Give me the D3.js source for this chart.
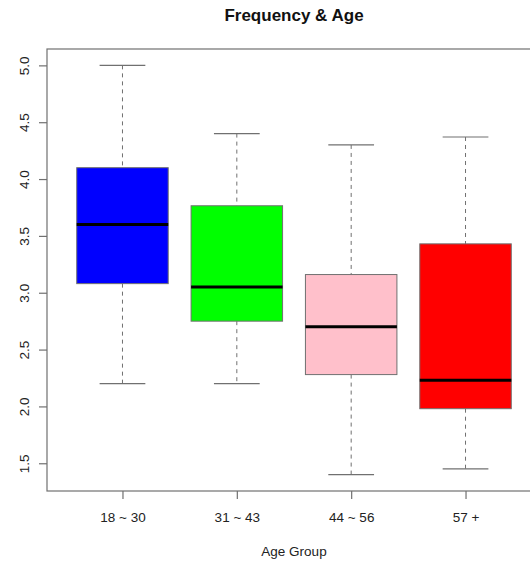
<!DOCTYPE html>
<html>
<head>
<meta charset="utf-8">
<script src="https://cdn.jsdelivr.net/npm/d3@7"></script>
<style>
body { margin: 0; background: #fff; }
svg { display: block; font-family: "Liberation Sans", Arial, sans-serif; }
</style>
</head>
<body>
<svg id="chart" width="530" height="563"></svg>
<script>
const categories = ["18 ~ 30", "31 ~ 43", "44 ~ 56", "57 +"];
const whiskerLow = [2.2, 2.2, 1.4, 1.45];
const q1 = [3.08, 2.75, 2.28, 1.98];
const median = [3.6, 3.05, 2.7, 2.23];
const q3 = [4.1, 3.765, 3.16, 3.43];
const whiskerHigh = [5.0, 4.4, 4.3, 4.37];
const boxColors = ["#0000ff", "#00ff00", "#ffc0cb", "#ff0000"];
const yTicks = [1.5, 2.0, 2.5, 3.0, 3.5, 4.0, 4.5, 5.0];
const title = "Frequency & Age";
const xTitle = "Age Group";

(function () {
const svg = d3.select("#chart");
const mLeft = 47, mRight = 541, mTop = 49, mBottom = 491;

const yMin = d3.min(whiskerLow), yMax = d3.max(whiskerHigh);
const pad = (yMax - yMin) * 0.04;
const y = d3.scaleLinear().domain([yMin - pad, yMax + pad]).range([mBottom, mTop]);
const n = categories.length;
const xpad = n * 0.04;
const x = d3.scaleLinear().domain([0.5 - xpad, n + 0.5 + xpad]).range([mLeft, mRight]);
const unit = x(1) - x(0);

const lineCol = "#707070";
const textCol = "#222";
const fs = 13.5;

const data = categories.map((c, i) => ({
  c, i: i + 1, lo: whiskerLow[i], q1: q1[i], med: median[i], q3: q3[i], hi: whiskerHigh[i], col: boxColors[i]
}));

const g = svg.append("g");
data.forEach(d => {
  const cx = x(d.i);
  g.append("line").attr("x1", cx).attr("x2", cx).attr("y1", y(d.hi)).attr("y2", y(d.q3))
    .attr("stroke", lineCol).attr("stroke-width", 1).attr("stroke-dasharray", "4,4");
  g.append("line").attr("x1", cx).attr("x2", cx).attr("y1", y(d.q1)).attr("y2", y(d.lo))
    .attr("stroke", lineCol).attr("stroke-width", 1).attr("stroke-dasharray", "4,4");
  [d.hi, d.lo].forEach(v => {
    g.append("line").attr("x1", cx - unit * 0.2).attr("x2", cx + unit * 0.2)
      .attr("y1", y(v)).attr("y2", y(v)).attr("stroke", lineCol).attr("stroke-width", 1.2);
  });
  g.append("rect").attr("x", cx - unit * 0.4).attr("width", unit * 0.8)
    .attr("y", y(d.q3)).attr("height", y(d.q1) - y(d.q3))
    .attr("fill", d.col).attr("stroke", lineCol).attr("stroke-width", 1);
  g.append("line").attr("x1", cx - unit * 0.4).attr("x2", cx + unit * 0.4)
    .attr("y1", y(d.med)).attr("y2", y(d.med)).attr("stroke", "#000").attr("stroke-width", 3);
});

svg.append("rect").attr("x", mLeft).attr("y", mTop).attr("width", mRight - mLeft).attr("height", mBottom - mTop)
  .attr("fill", "none").attr("stroke", lineCol).attr("stroke-width", 1.2);

const yAxis = svg.append("g").attr("transform", `translate(${mLeft},0)`)
  .call(d3.axisLeft(y).tickValues(yTicks).tickSize(8).tickFormat(d3.format(".1f")));
yAxis.select(".domain").remove();
yAxis.selectAll(".tick line").attr("stroke", lineCol).attr("stroke-width", 1.2);
yAxis.selectAll(".tick text").attr("fill", textCol).attr("font-size", fs)
  .attr("font-family", "Liberation Sans, Arial, sans-serif")
  .attr("transform", "rotate(-90)").attr("x", 0).attr("dy", null)
  .attr("text-anchor", "middle")
  .attr("y", -18.5);

const xAxis = svg.append("g").attr("transform", `translate(0,${mBottom})`)
  .call(d3.axisBottom(x).tickValues(d3.range(1, n + 1)).tickSize(8).tickFormat(d => categories[d - 1]));
xAxis.select(".domain").remove();
xAxis.selectAll(".tick line").attr("stroke", lineCol).attr("stroke-width", 1.2);
xAxis.selectAll(".tick text").attr("fill", textCol).attr("font-size", fs)
  .attr("font-family", "Liberation Sans, Arial, sans-serif")
  .attr("dy", null).attr("y", 30.5);

svg.append("text").attr("x", (mLeft + mRight) / 2).attr("y", 21).attr("text-anchor", "middle")
  .attr("font-size", 17).attr("font-weight", "bold").attr("fill", "#111").text(title);
svg.append("text").attr("x", (mLeft + mRight) / 2).attr("y", 556).attr("text-anchor", "middle")
  .attr("font-size", fs).attr("fill", textCol).text(xTitle);
})();
</script>
</body>
</html>
